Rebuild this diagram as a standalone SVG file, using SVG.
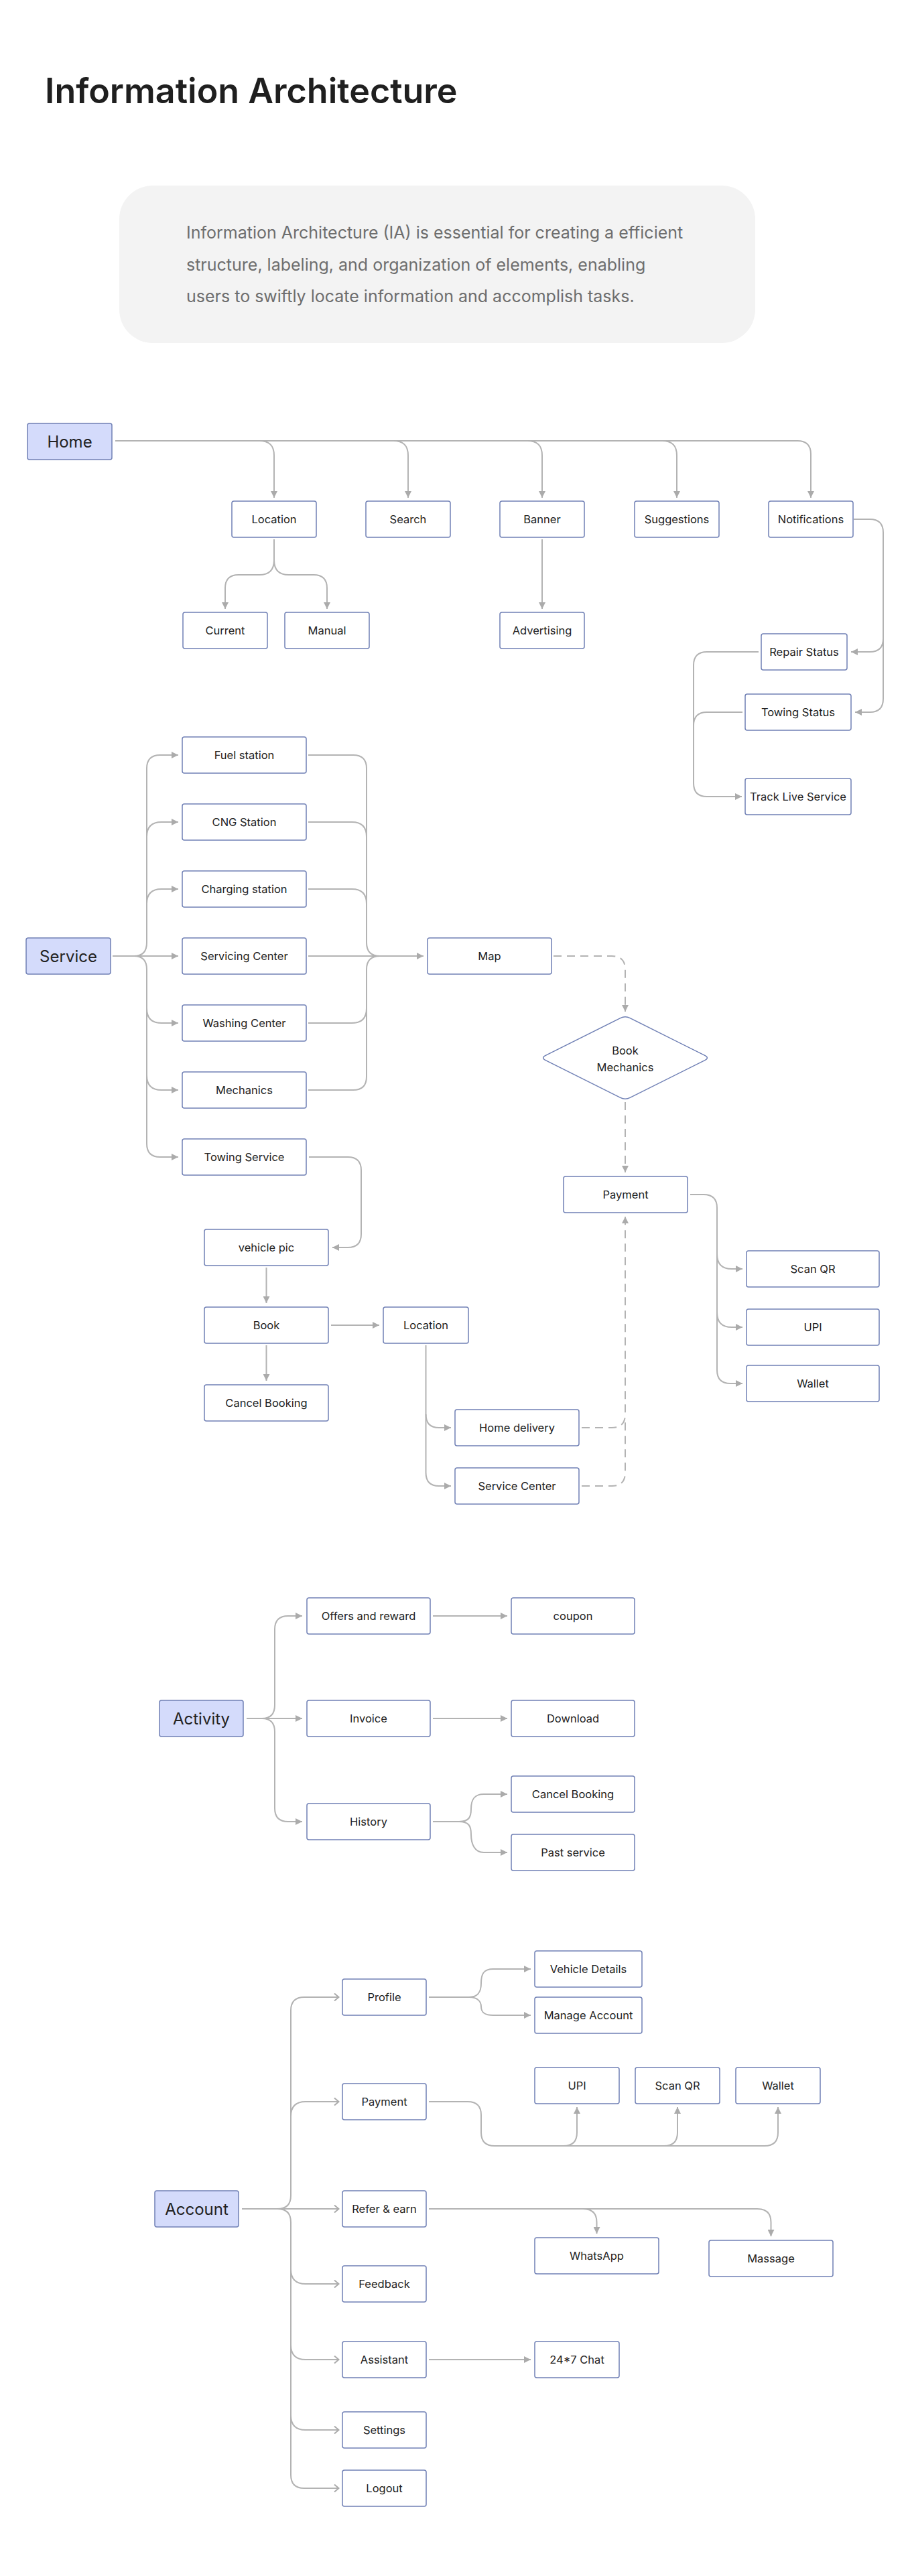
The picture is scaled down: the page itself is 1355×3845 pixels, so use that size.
<svg xmlns="http://www.w3.org/2000/svg" width="1355" height="3845" viewBox="0 0 1355 3845">
<style>
text{font-family:Inter,"Liberation Sans",sans-serif;fill:#222;}
.n rect,.n path{fill:#fff;stroke:#7080b5;stroke-width:1.5;}
.r rect{fill:#d4dbfb;stroke:#7080b5;stroke-width:1.5;}
.n text{font-size:16.5px;text-anchor:middle;dominant-baseline:central;}
.r text{font-size:24px;text-anchor:middle;dominant-baseline:central;}
.c path{fill:none;stroke:#b3b3b3;stroke-width:2;}
.c path.d{stroke-dasharray:12 8;}
.title{font-size:52px;font-weight:600;fill:#1f1f1f;}
.desc{font-size:25px;fill:#6e6e6e;}
</style>
<defs>
<marker id="a" viewBox="0 0 10 10" refX="10" refY="5" markerWidth="10" markerHeight="10" markerUnits="userSpaceOnUse" orient="auto"><path d="M0,0 L10,5 L0,10 z" fill="#ababab"/></marker>
<marker id="o" viewBox="0 0 12 12" refX="11" refY="6" markerWidth="12" markerHeight="12" markerUnits="userSpaceOnUse" orient="auto"><path d="M4,0.5 L10.5,6 L4,11.5" fill="none" stroke="#ababab" stroke-width="2"/></marker>
</defs>
<rect width="1355" height="3845" fill="#fff"/>

<text class="title" x="67" y="154">Information Architecture</text>
<g id="intro">
<rect x="178" y="277" width="949" height="235" rx="50" fill="#f3f3f3"/>
<text class="desc" x="278" y="356">Information Architecture (IA) is essential for creating a efficient</text>
<text class="desc" x="278" y="404">structure, labeling, and organization of elements, enabling</text>
<text class="desc" x="278" y="451">users to swiftly locate information and accomplish tasks.</text>
</g>

<g class="c" id="connectors">
<!-- Home -->
<path d="M172,658 H1190 Q1210,658 1210,678 V743" marker-end="url(#a)"/>
<path d="M387,658 C401,658 409,664 409,680 V743" marker-end="url(#a)"/>
<path d="M587,658 C601,658 609,664 609,680 V743" marker-end="url(#a)"/>
<path d="M787,658 C801,658 809,664 809,680 V743" marker-end="url(#a)"/>
<path d="M988,658 C1002,658 1010,664 1010,680 V743" marker-end="url(#a)"/>
<path d="M409,805 V836 Q409,858 387,858 H356 Q336,858 336,878 V909" marker-end="url(#a)"/>
<path d="M409,836 Q409,858 431,858 H468 Q488,858 488,878 V909" marker-end="url(#a)"/>
<path d="M809,805 V909" marker-end="url(#a)"/>
<path d="M1274,775 H1298 Q1318,775 1318,795 V953 Q1318,973 1298,973 H1270" marker-end="url(#a)"/>
<path d="M1318,953 V1043 Q1318,1063 1298,1063 H1276" marker-end="url(#a)"/>
<path d="M1132,973 H1055 Q1035,973 1035,993 V1169 Q1035,1189 1055,1189 H1107" marker-end="url(#a)"/>
<path d="M1108,1063 H1055 Q1035,1063 1035,1083"/>
<!-- Service -->
<path d="M168,1427 H266" marker-end="url(#a)"/>
<path d="M200,1427 Q219,1427 219,1407 V1147 Q219,1127 239,1127 H266" marker-end="url(#a)"/>
<path d="M219,1249 Q219,1227 241,1227 H266" marker-end="url(#a)"/>
<path d="M219,1349 Q219,1327 241,1327 H266" marker-end="url(#a)"/>
<path d="M200,1427 Q219,1427 219,1447 V1707 Q219,1727 239,1727 H266" marker-end="url(#a)"/>
<path d="M219,1505 Q219,1527 241,1527 H266" marker-end="url(#a)"/>
<path d="M219,1605 Q219,1627 241,1627 H266" marker-end="url(#a)"/>
<path d="M460,1427 H632" marker-end="url(#a)"/>
<path d="M460,1127 H527 Q547,1127 547,1147 V1407 Q547,1427 567,1427"/>
<path d="M460,1227 H525 Q547,1227 547,1249"/>
<path d="M460,1327 H525 Q547,1327 547,1349"/>
<path d="M460,1527 H525 Q547,1527 547,1505"/>
<path d="M460,1627 H527 Q547,1627 547,1607 V1447 Q547,1427 567,1427"/>
<path class="d" d="M826,1427 H913 Q933,1427 933,1447 V1510" marker-end="url(#a)"/>
<path class="d" d="M933,1645 V1750" marker-end="url(#a)"/>
<path d="M1030,1783 H1050 Q1070,1783 1070,1803 V2045 Q1070,2065 1090,2065 H1108" marker-end="url(#a)"/>
<path d="M1070,1872 Q1070,1894 1092,1894 H1108" marker-end="url(#a)"/>
<path d="M1070,1959 Q1070,1981 1092,1981 H1108" marker-end="url(#a)"/>
<path d="M461,1727 H519 Q539,1727 539,1747 V1842 Q539,1862 519,1862 H496" marker-end="url(#a)"/>
<path d="M397.5,1892 V1945" marker-end="url(#a)"/>
<path d="M397.5,2008 V2061" marker-end="url(#a)"/>
<path d="M494,1978 H566" marker-end="url(#a)"/>
<path d="M635.5,2008 V2111 Q635.5,2131 655,2131 H673" marker-end="url(#a)"/>
<path d="M635.5,2111 V2198 Q635.5,2218 655,2218 H673" marker-end="url(#a)"/>
<path class="d" d="M868,2131 H913 Q933,2131 933,2111 V1816" marker-end="url(#a)"/>
<path class="d" d="M868,2218 H913 Q933,2218 933,2198 V2120"/>
<!-- Activity -->
<path d="M368,2565 H451" marker-end="url(#a)"/>
<path d="M391,2565 Q410,2565 410,2545 V2432 Q410,2412 430,2412 H451" marker-end="url(#a)"/>
<path d="M391,2565 Q410,2565 410,2585 V2699 Q410,2719 430,2719 H451" marker-end="url(#a)"/>
<path d="M646,2412 H757" marker-end="url(#a)"/>
<path d="M646,2565 H757" marker-end="url(#a)"/>
<path d="M646,2719 H685 C700,2719 703,2712 703,2700 C703,2686 708,2678 722,2678 H757" marker-end="url(#a)"/>
<path d="M685,2719 C700,2719 703,2726 703,2738 C703,2752 708,2765 722,2765 H757" marker-end="url(#a)"/>
<!-- Account -->
<path d="M361,3297 H506" marker-end="url(#o)"/>
<path d="M414,3297 Q434,3297 434,3277 V3001 Q434,2981 454,2981 H506" marker-end="url(#o)"/>
<path d="M434,3159 Q434,3137 456,3137 H506" marker-end="url(#o)"/>
<path d="M414,3297 Q434,3297 434,3317 V3694 Q434,3714 454,3714 H506" marker-end="url(#o)"/>
<path d="M434,3387 Q434,3409 456,3409 H506" marker-end="url(#o)"/>
<path d="M434,3500 Q434,3522 456,3522 H506" marker-end="url(#o)"/>
<path d="M434,3605 Q434,3627 456,3627 H506" marker-end="url(#o)"/>
<path d="M640,2981 H700 C713,2981 718,2974 718,2960 C718,2946 722,2939 736,2939 H792" marker-end="url(#a)"/>
<path d="M700,2981 C713,2981 718,2988 718,2995 C718,3003 722,3008 736,3008 H792" marker-end="url(#a)"/>
<path d="M640,3137 H698 Q718,3137 718,3157 V3183 Q718,3203 738,3203 H1141 Q1161,3203 1161,3183 V3145" marker-end="url(#a)"/>
<path d="M841,3203 Q861,3203 861,3183 V3145" marker-end="url(#a)"/>
<path d="M991,3203 Q1011,3203 1011,3183 V3145" marker-end="url(#a)"/>
<path d="M640,3297 H1130 Q1150.5,3297 1150.5,3317 V3338" marker-end="url(#a)"/>
<path d="M870,3297 Q890.5,3297 890.5,3317 V3334" marker-end="url(#a)"/>
<path d="M640,3522 H792" marker-end="url(#a)"/>
</g>

<!-- Home section -->
<g id="home" class="r"><rect x="41" y="632" width="126" height="54" rx="3"/><text x="104" y="659">Home</text></g>
<g id="home-location" class="n"><rect x="346" y="748" width="126" height="54" rx="3"/><text x="409" y="775">Location</text></g>
<g id="home-search" class="n"><rect x="546" y="748" width="126" height="54" rx="3"/><text x="609" y="775">Search</text></g>
<g id="home-banner" class="n"><rect x="746" y="748" width="126" height="54" rx="3"/><text x="809" y="775">Banner</text></g>
<g id="home-suggestions" class="n"><rect x="947" y="748" width="126" height="54" rx="3"/><text x="1010" y="775">Suggestions</text></g>
<g id="home-notifications" class="n"><rect x="1147" y="748" width="126" height="54" rx="3"/><text x="1210" y="775">Notifications</text></g>
<g id="home-current" class="n"><rect x="273" y="914" width="126" height="54" rx="3"/><text x="336" y="941">Current</text></g>
<g id="home-manual" class="n"><rect x="425" y="914" width="126" height="54" rx="3"/><text x="488" y="941">Manual</text></g>
<g id="home-advertising" class="n"><rect x="746" y="914" width="126" height="54" rx="3"/><text x="809" y="941">Advertising</text></g>
<g id="repair-status" class="n"><rect x="1136" y="946" width="128" height="54" rx="3"/><text x="1200" y="973">Repair Status</text></g>
<g id="towing-status" class="n"><rect x="1112" y="1036" width="158" height="54" rx="3"/><text x="1191" y="1063">Towing Status</text></g>
<g id="track-live" class="n"><rect x="1112" y="1162" width="158" height="54" rx="3"/><text x="1191" y="1189">Track Live Service</text></g>

<!-- Service section -->
<g id="service" class="r"><rect x="39" y="1400" width="126" height="54" rx="3"/><text x="102" y="1427">Service</text></g>
<g id="fuel" class="n"><rect x="272" y="1100" width="185" height="54" rx="3"/><text x="364.5" y="1127">Fuel station</text></g>
<g id="cng" class="n"><rect x="272" y="1200" width="185" height="54" rx="3"/><text x="364.5" y="1227">CNG Station</text></g>
<g id="charging" class="n"><rect x="272" y="1300" width="185" height="54" rx="3"/><text x="364.5" y="1327">Charging station</text></g>
<g id="servicing" class="n"><rect x="272" y="1400" width="185" height="54" rx="3"/><text x="364.5" y="1427">Servicing Center</text></g>
<g id="washing" class="n"><rect x="272" y="1500" width="185" height="54" rx="3"/><text x="364.5" y="1527">Washing Center</text></g>
<g id="mechanics" class="n"><rect x="272" y="1600" width="185" height="54" rx="3"/><text x="364.5" y="1627">Mechanics</text></g>
<g id="towing-service" class="n"><rect x="272" y="1700" width="185" height="54" rx="3"/><text x="364.5" y="1727">Towing Service</text></g>
<g id="map" class="n"><rect x="638" y="1400" width="185" height="54" rx="3"/><text x="730.5" y="1427">Map</text></g>
<g id="book-mechanics" class="n"><path d="M814.2,1575.4 L925.8,1519.6 Q933,1516 940.2,1519.6 L1051.8,1575.4 Q1059,1579 1051.8,1582.6 L940.2,1638.4 Q933,1642 925.8,1638.4 L814.2,1582.6 Q807,1579 814.2,1575.4 Z"/><text x="933" y="1568">Book</text><text x="933" y="1593">Mechanics</text></g>
<g id="payment" class="n"><rect x="841" y="1756" width="185" height="54" rx="3"/><text x="933.5" y="1783">Payment</text></g>
<g id="scan-qr" class="n"><rect x="1114" y="1867" width="198" height="54" rx="3"/><text x="1213" y="1894">Scan QR</text></g>
<g id="upi" class="n"><rect x="1114" y="1954" width="198" height="54" rx="3"/><text x="1213" y="1981">UPI</text></g>
<g id="wallet" class="n"><rect x="1114" y="2038" width="198" height="54" rx="3"/><text x="1213" y="2065">Wallet</text></g>
<g id="vehicle-pic" class="n"><rect x="305" y="1835" width="185" height="54" rx="3"/><text x="397.5" y="1862">vehicle pic</text></g>
<g id="book" class="n"><rect x="305" y="1951" width="185" height="54" rx="3"/><text x="397.5" y="1978">Book</text></g>
<g id="cancel-booking" class="n"><rect x="305" y="2067" width="185" height="54" rx="3"/><text x="397.5" y="2094">Cancel Booking</text></g>
<g id="service-location" class="n"><rect x="572" y="1951" width="127" height="54" rx="3"/><text x="635.5" y="1978">Location</text></g>
<g id="home-delivery" class="n"><rect x="679" y="2104" width="185" height="54" rx="3"/><text x="771.5" y="2131">Home delivery</text></g>
<g id="service-center" class="n"><rect x="679" y="2191" width="185" height="54" rx="3"/><text x="771.5" y="2218">Service Center</text></g>

<!-- Activity section -->
<g id="activity" class="r"><rect x="238" y="2538" width="125" height="54" rx="3"/><text x="300.5" y="2565">Activity</text></g>
<g id="offers" class="n"><rect x="458" y="2385" width="184" height="54" rx="3"/><text x="550" y="2412">Offers and reward</text></g>
<g id="coupon" class="n"><rect x="763" y="2385" width="184" height="54" rx="3"/><text x="855" y="2412">coupon</text></g>
<g id="invoice" class="n"><rect x="458" y="2538" width="184" height="54" rx="3"/><text x="550" y="2565">Invoice</text></g>
<g id="download" class="n"><rect x="763" y="2538" width="184" height="54" rx="3"/><text x="855" y="2565">Download</text></g>
<g id="history" class="n"><rect x="458" y="2692" width="184" height="54" rx="3"/><text x="550" y="2719">History</text></g>
<g id="history-cancel" class="n"><rect x="763" y="2651" width="184" height="54" rx="3"/><text x="855" y="2678">Cancel Booking</text></g>
<g id="past-service" class="n"><rect x="763" y="2738" width="184" height="54" rx="3"/><text x="855" y="2765">Past service</text></g>

<!-- Account section -->
<g id="account" class="r"><rect x="231" y="3270" width="125" height="54" rx="3"/><text x="293.5" y="3297">Account</text></g>
<g id="profile" class="n"><rect x="511" y="2954" width="125" height="54" rx="3"/><text x="573.5" y="2981">Profile</text></g>
<g id="vehicle-details" class="n"><rect x="798" y="2912" width="160" height="54" rx="3"/><text x="878" y="2939">Vehicle Details</text></g>
<g id="manage-account" class="n"><rect x="798" y="2981" width="160" height="54" rx="3"/><text x="878" y="3008">Manage Account</text></g>
<g id="acc-payment" class="n"><rect x="511" y="3110" width="125" height="54" rx="3"/><text x="573.5" y="3137">Payment</text></g>
<g id="acc-upi" class="n"><rect x="798" y="3086" width="126" height="54" rx="3"/><text x="861" y="3113">UPI</text></g>
<g id="acc-scan-qr" class="n"><rect x="948" y="3086" width="126" height="54" rx="3"/><text x="1011" y="3113">Scan QR</text></g>
<g id="acc-wallet" class="n"><rect x="1098" y="3086" width="126" height="54" rx="3"/><text x="1161" y="3113">Wallet</text></g>
<g id="refer" class="n"><rect x="511" y="3270" width="125" height="54" rx="3"/><text x="573.5" y="3297">Refer &amp; earn</text></g>
<g id="whatsapp" class="n"><rect x="798" y="3340" width="185" height="54" rx="3"/><text x="890.5" y="3367">WhatsApp</text></g>
<g id="massage" class="n"><rect x="1058" y="3344" width="185" height="54" rx="3"/><text x="1150.5" y="3371">Massage</text></g>
<g id="feedback" class="n"><rect x="511" y="3382" width="125" height="54" rx="3"/><text x="573.5" y="3409">Feedback</text></g>
<g id="assistant" class="n"><rect x="511" y="3495" width="125" height="54" rx="3"/><text x="573.5" y="3522">Assistant</text></g>
<g id="chat" class="n"><rect x="798" y="3495" width="126" height="54" rx="3"/><text x="861" y="3522">24*7 Chat</text></g>
<g id="settings" class="n"><rect x="511" y="3600" width="125" height="54" rx="3"/><text x="573.5" y="3627">Settings</text></g>
<g id="logout" class="n"><rect x="511" y="3687" width="125" height="54" rx="3"/><text x="573.5" y="3714">Logout</text></g>
</svg>
